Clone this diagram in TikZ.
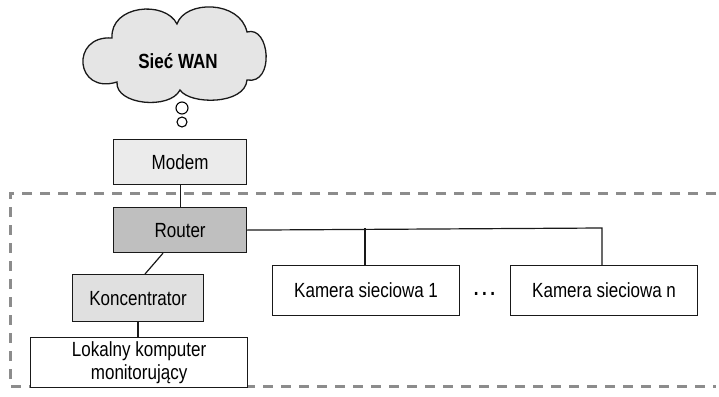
\documentclass[tikz,border=0pt]{standalone}
\usepackage{fontspec}
\setmainfont{Liberation Sans}[FakeStretch=0.83]
\begin{document}
\begin{tikzpicture}[x=1pt,y=-1pt,
  box/.style={draw=black!90, line width=1.2pt, minimum height=45pt, inner sep=0pt, font=\fontsize{20.5}{23}\selectfont, anchor=north west},
  link/.style={draw=black!90, line width=1.2pt},
  zone/.style={draw=black!45, line width=3pt, dash pattern=on 10pt off 8pt}]
\useasboundingbox (0,0) rectangle (719,396);
% cloud
\draw[fill=black!10, line width=1.3pt, draw=black!90]
  (117,82) .. controls (75,95) and (70,35) .. (112,38)
  .. controls (110,5) and (165,0) .. (177,24)
  .. controls (185,0) and (240,0) .. (247,32)
  .. controls (270,25) and (275,85) .. (247,80)
  .. controls (245,105) and (190,105) .. (180,90)
  .. controls (170,110) and (115,105) .. cycle;
\node[font=\fontsize{20.5}{23}\selectfont\bfseries] (wan) at (178,61) {Sieć WAN};
\draw[fill=white, line width=1.1pt] (182,108) circle (6);
\draw[fill=white, line width=1.1pt] (182,122) circle (5);
% dashed zone
\draw[zone] (716,193) -- (10,193) -- (10,386) -- (716,386);
% nodes
\node[box, fill=black!8, minimum width=133pt] (modem) at (113,139) {Modem};
\node[box, fill=black!25, minimum width=133pt] (router) at (113,207) {Router};
\node[box, fill=black!12, minimum width=131pt, minimum height=47pt] (konc) at (72,274) {Koncentrator};
\node[box, fill=white, minimum width=217pt, minimum height=50pt, align=center] (pc) at (30,337) {Lokalny komputer\\monitorujący};
\node[box, fill=white, minimum width=187pt, minimum height=50pt] (cam1) at (272,265) {Kamera sieciowa 1};
\node[box, fill=white, minimum width=187pt, minimum height=50pt] (camn) at (510,265) {Kamera sieciowa n};
\node[font=\fontsize{20.5}{23}\selectfont\bfseries] (dots) at (484.5,294) {.\hspace{3.5pt}.\hspace{3.5pt}.};
% connectors
\draw[link] (modem.south) -- (router.north);
\draw[link] ([xshift=50pt]router.south west) -- ([xshift=73pt]konc.north west);
\draw[link] ([xshift=66pt]konc.south west) -- ([xshift=108pt]pc.north west);
\coordinate (j1) at (365,228);
\coordinate (j2) at (602,228);
\draw[link] (router.east) -- (j2) -- (camn.north -| j2);
\draw[link] (j1) -- (cam1.north -| j1);
\end{tikzpicture}
\end{document}
